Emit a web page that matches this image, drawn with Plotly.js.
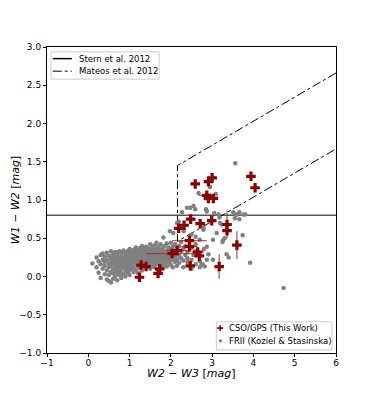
<!DOCTYPE html>
<html>
<head>
<meta charset="utf-8">
<script src="https://cdn.plot.ly/plotly-3.0.1.min.js"></script>
<style>
  body { margin: 0; background: #fff; }
  #chart { width: 374px; height: 397px; }
</style>
</head>
<body>
<div id="chart"></div>
<script>
// CSO/GPS sources (this work)
var csoX = [1.24, 1.28, 1.40, 1.69, 1.73, 2.03, 2.15, 2.19, 2.32, 2.45, 2.45, 2.47, 2.48, 2.59, 2.65,
            2.69, 2.71, 2.87, 2.91, 3.03, 2.91, 3.00, 2.99, 3.17, 3.36, 3.36, 3.60, 3.94, 4.04];
var csoY = [-0.01, 0.15, 0.13, 0.04, 0.10, 0.30, 0.34, 0.63, 0.67, 0.47, 0.39, 0.14, 0.75, 1.21, 0.32,
            0.27, 0.69, 1.06, 1.02, 1.02, 1.24, 1.29, 0.73, 0.13, 0.68, 0.60, 0.41, 1.31, 1.16];
var csoXerr = [0.05, 0.08, 0.06, 0.05, 0.05, 0.62, 0.25, 0.08, 0.10, 0.42, 0.20, 0.08, 0.10, 0.07, 0.15,
               0.12, 0.08, 0.20, 0.08, 0.06, 0.06, 0.06, 0.06, 0.05, 0.06, 0.06, 0.06, 0.06, 0.05];
var csoYerr = [0.03, 0.03, 0.03, 0.04, 0.04, 0.05, 0.05, 0.05, 0.04, 0.08, 0.06, 0.04, 0.04, 0.04, 0.06,
               0.07, 0.04, 0.04, 0.04, 0.04, 0.04, 0.04, 0.04, 0.16, 0.18, 0.06, 0.18, 0.04, 0.05];

// FRII comparison sample (Koziel & Stasinska)
var friiX = [
  0.10, 0.20, 0.20, 0.25, 0.25, 0.30, 0.30, 0.30, 0.35, 0.35, 0.35,
  0.40, 0.40, 0.40, 0.40, 0.45, 0.45, 0.45, 0.45,
  0.50, 0.50, 0.50, 0.50, 0.50, 0.55, 0.55, 0.55, 0.55, 0.55, 0.55,
  0.60, 0.60, 0.60, 0.60, 0.60, 0.60, 0.65, 0.65, 0.65, 0.65, 0.65, 0.65,
  0.70, 0.70, 0.70, 0.70, 0.70, 0.70, 0.70, 0.75, 0.75, 0.75, 0.75, 0.75, 0.75,
  0.80, 0.80, 0.80, 0.80, 0.80, 0.80, 0.80, 0.85, 0.85, 0.85, 0.85, 0.85, 0.85,
  0.90, 0.90, 0.90, 0.90, 0.90, 0.90, 0.90, 0.95, 0.95, 0.95, 0.95, 0.95, 0.95,
  1.00, 1.00, 1.00, 1.00, 1.00, 1.00, 1.00, 1.00, 1.05, 1.05, 1.05, 1.05, 1.05, 1.05,
  1.10, 1.10, 1.10, 1.10, 1.10, 1.10, 1.10, 1.15, 1.15, 1.15, 1.15, 1.15, 1.15,
  1.20, 1.20, 1.20, 1.20, 1.20, 1.20, 1.20, 1.25, 1.25, 1.25, 1.25, 1.25, 1.25,
  1.30, 1.30, 1.30, 1.30, 1.30, 1.30, 1.30, 1.35, 1.35, 1.35, 1.35, 1.35, 1.35,
  1.40, 1.40, 1.40, 1.40, 1.40, 1.40, 1.40, 1.45, 1.45, 1.45, 1.45, 1.45, 1.45,
  1.50, 1.50, 1.50, 1.50, 1.50, 1.50, 1.50, 1.55, 1.55, 1.55, 1.55, 1.55, 1.55,
  1.60, 1.60, 1.60, 1.60, 1.60, 1.60, 1.60, 1.65, 1.65, 1.65, 1.65, 1.65, 1.65,
  1.70, 1.70, 1.70, 1.70, 1.70, 1.70, 1.75, 1.75, 1.75, 1.75, 1.75, 1.75,
  1.80, 1.80, 1.80, 1.80, 1.80, 1.80, 1.85, 1.85, 1.85, 1.85, 1.85,
  1.90, 1.90, 1.90, 1.90, 1.90, 1.90, 1.95, 1.95, 1.95, 1.95,
  2.00, 2.00, 2.00, 2.00, 2.00, 2.05, 2.05, 2.05, 2.05, 2.10, 2.10, 2.10, 2.10,
  2.15, 2.15, 2.15, 2.15, 2.20, 2.20, 2.20, 2.25, 2.25, 2.25, 2.30, 2.30, 2.30,
  2.35, 2.35, 2.40, 2.40, 2.40, 2.50, 2.50, 2.50, 2.55, 2.60, 2.60, 2.60,
  2.70, 2.70, 2.75, 2.80,
  1.82, 1.98, 2.06, 2.19, 2.15, 2.31, 2.27, 2.39, 2.47, 2.55, 2.59, 2.67, 2.95, 3.09,
  2.85, 2.87, 3.05, 3.15, 3.18, 3.23, 3.19, 3.11, 2.79, 2.79, 3.02, 3.26, 3.25, 3.30,
  2.87, 2.91, 2.87, 2.77, 2.82, 3.02, 3.35, 3.40, 3.51, 3.58, 3.60, 3.66, 3.66, 3.76,
  3.80, 3.55, 3.74, 3.92, 4.73, 3.56, 2.50, 2.60, 2.70
];
var friiY = [
  0.17, 0.25, 0.12, 0.20, 0.05, 0.28, 0.16, -0.02, 0.22, 0.10, 0.30,
  0.14, 0.26, 0.03, 0.19, 0.31, 0.08, 0.22, -0.04,
  0.17, 0.27, 0.12, -0.06, 0.02, 0.33, 0.21, 0.06, -0.08, 0.15, 0.25,
  0.29, 0.10, 0.18, -0.03, 0.23, 0.04, 0.14, 0.32, 0.26, 0.00, 0.20, 0.08,
  0.22, 0.30, 0.11, -0.05, 0.17, 0.27, 0.05, 0.19, 0.33, 0.02, 0.24, 0.13, 0.08,
  0.28, 0.15, 0.21, -0.02, 0.31, 0.10, 0.05, 0.25, 0.18, 0.34, 0.12, 0.03, 0.22,
  0.30, 0.14, 0.20, 0.26, 0.08, 0.00, 0.17, 0.22, 0.33, 0.11, 0.28, 0.16, 0.05,
  0.25, 0.19, 0.31, 0.13, 0.36, 0.08, 0.21, 0.02, 0.28, 0.15, 0.22, 0.33, 0.10, 0.18,
  0.24, 0.30, 0.12, 0.20, 0.35, 0.06, 0.27, 0.17, 0.26, 0.32, 0.22, 0.09, 0.38,
  0.29, 0.21, 0.14, 0.34, 0.25, 0.18, 0.05, 0.31, 0.24, 0.37, 0.19, 0.27, 0.11,
  0.22, 0.33, 0.28, 0.16, 0.40, 0.25, 0.08, 0.30, 0.19, 0.36, 0.26, 0.13, 0.22,
  0.27, 0.34, 0.21, 0.39, 0.17, 0.31, 0.24, 0.23, 0.32, 0.29, 0.14, 0.37, 0.19,
  0.26, 0.35, 0.21, 0.42, 0.30, 0.17, 0.10, 0.31, 0.24, 0.38, 0.20, 0.28, 0.15,
  0.27, 0.34, 0.22, 0.41, 0.30, 0.18, 0.12, 0.29, 0.36, 0.25, 0.20, 0.44, 0.16,
  0.32, 0.23, 0.39, 0.27, 0.18, 0.35, 0.28, 0.34, 0.21, 0.42, 0.25, 0.15,
  0.30, 0.37, 0.24, 0.19, 0.33, 0.12, 0.27, 0.40, 0.22, 0.31, 0.16,
  0.34, 0.26, 0.43, 0.20, 0.29, 0.13, 0.31, 0.24, 0.38, 0.18,
  0.36, 0.27, 0.21, 0.44, 0.15, 0.29, 0.39, 0.23, 0.12, 0.33, 0.26, 0.42, 0.19,
  0.30, 0.22, 0.37, 0.14, 0.27, 0.40, 0.18, 0.33, 0.24, 0.45, 0.21, 0.36, 0.12,
  0.28, 0.40, 0.19, 0.32, 0.24, 0.37, 0.22, 0.10, 0.28, 0.16, 0.42, 0.33,
  0.20, 0.12, 0.16, 0.36,
  0.51, 0.59, 0.57, 0.72, 0.70, 0.59, 0.84, 0.90, 0.90, 0.92, 0.88, 1.09, 1.17, 1.08,
  0.88, 0.85, 0.83, 0.81, 0.77, 0.68, 0.70, 0.57, 0.61, 0.64, 0.48, 0.47, 0.45, 0.50,
  0.39, 0.29, 0.22, 0.16, 0.13, 0.22, 0.29, 0.25, 0.84, 0.81, 0.81, 0.75, 0.84, 0.81,
  0.81, 0.76, 0.54, 0.18, -0.15, 1.48, 0.55, 0.52, 0.48
];

// diagnostic lines
var sternY = 0.8;
var mateosSlope = 0.315;
var mateosTop = 0.77;
var mateosBottom = -0.222;
var mateosXmin = 2.16;
var mateosXmax = 6;

var legendLines = ['Stern et al. 2012', 'Mateos et al. 2012'];
var legendPoints = ['CSO/GPS (This Work)', 'FRII (Koziel & Stasinska)'];
var xTitle = '<i>W2</i> − <i>W3</i> [<i>mag</i>]';
var yTitle = '<i>W1</i> − <i>W2</i> [<i>mag</i>]';

var xr = [-1, 6];
var wedgeX = [mateosXmax, mateosXmin, mateosXmin, mateosXmax];
var wedgeY = [
  mateosSlope * mateosXmax + mateosTop,
  mateosSlope * mateosXmin + mateosTop,
  mateosSlope * mateosXmin + mateosBottom,
  mateosSlope * mateosXmax + mateosBottom
];

var cso = '#8b0000';
var errCol = 'rgba(165,35,35,0.75)';

var traces = [
  {
    x: xr, y: [sternY, sternY], mode: 'lines', name: legendLines[0],
    line: { color: '#555555', width: 1.5 }, hoverinfo: 'skip'
  },
  {
    x: wedgeX, y: wedgeY, mode: 'lines', name: legendLines[1],
    line: { color: 'black', width: 1, dash: 'dashdot' }, hoverinfo: 'skip'
  },
  {
    x: friiX, y: friiY, mode: 'markers', name: legendPoints[1],
    marker: { color: 'grey', size: 4.5 }
  },
  {
    x: csoX, y: csoY, mode: 'markers', name: legendPoints[0],
    marker: { color: cso, symbol: 'cross', size: 8 },
    error_x: { type: 'data', array: csoXerr, color: errCol, thickness: 1.3, width: 0 },
    error_y: { type: 'data', array: csoYerr, color: errCol, thickness: 1.3, width: 0 }
  }
];

// compact matplotlib-style legends, drawn with shapes and annotations (paper coords)
var legFont = { family: 'DejaVu Sans', size: 8.5, color: 'black' };
var titleFont = { family: 'DejaVu Sans', size: 11, color: 'black' };
var shapes = [
  { type: 'rect', xref: 'paper', yref: 'paper', x0: 0.014, x1: 0.388, y0: 0.895, y1: 0.984,
    line: { color: '#cccccc', width: 1 }, fillcolor: 'rgba(255,255,255,0.8)' },
  { type: 'line', xref: 'paper', yref: 'paper', x0: 0.020, x1: 0.086, y0: 0.962, y1: 0.962,
    line: { color: 'black', width: 1.5 } },
  { type: 'line', xref: 'paper', yref: 'paper', x0: 0.020, x1: 0.086, y0: 0.921, y1: 0.921,
    line: { color: 'black', width: 1, dash: 'dashdot' } },
  { type: 'rect', xref: 'paper', yref: 'paper', x0: 0.586, x1: 0.986, y0: 0.010, y1: 0.102,
    line: { color: '#cccccc', width: 1 }, fillcolor: 'rgba(255,255,255,0.8)' },
  { type: 'circle', xref: 'paper', yref: 'paper', xsizemode: 'pixel', ysizemode: 'pixel',
    xanchor: 0.600, yanchor: 0.040, x0: -1.6, x1: 1.6, y0: -1.6, y1: 1.6,
    line: { width: 0 }, fillcolor: '#4a84b8' }
];
var annotations = [
  { xref: 'paper', yref: 'paper', x: 0.105, y: 0.962, text: legendLines[0] },
  { xref: 'paper', yref: 'paper', x: 0.105, y: 0.921, text: legendLines[1] },
  { xref: 'paper', yref: 'paper', x: 0.622, y: 0.081, text: legendPoints[0] },
  { xref: 'paper', yref: 'paper', x: 0.622, y: 0.040, text: legendPoints[1] },
  { xref: 'paper', yref: 'paper', x: 0.600, y: 0.081, xanchor: 'center', text: '✚',
    font: { family: 'DejaVu Sans', size: 8, color: cso } },
  // axis titles, placed like matplotlib's labels
  { xref: 'paper', yref: 'paper', x: 0.5, y: -0.066, xanchor: 'center', text: xTitle, font: titleFont },
  { xref: 'paper', yref: 'paper', x: -0.11, y: 0.5, xanchor: 'center', textangle: -90, text: yTitle, font: titleFont }
].map(function (a) {
  return Object.assign({ showarrow: false, xanchor: 'left', yanchor: 'middle', font: legFont }, a);
});

var axisFont = { family: 'DejaVu Sans', size: 9, color: 'black' };

var layout = {
  width: 374,
  height: 397,
  margin: { l: 47, r: 38, t: 47, b: 44 },
  paper_bgcolor: 'white',
  plot_bgcolor: 'white',
  font: axisFont,
  showlegend: false,
  xaxis: {
    range: xr, dtick: 1, tick0: 0,
    showgrid: false, zeroline: false,
    showline: true, mirror: true, linecolor: 'black', linewidth: 1,
    ticks: 'outside', ticklen: 3, tickcolor: 'black',
    ticklabelstandoff: -2,
    tickfont: axisFont
  },
  yaxis: {
    range: [-1, 3], dtick: 0.5, tick0: 0, tickformat: '.1f',
    showgrid: false, zeroline: false,
    showline: true, mirror: true, linecolor: 'black', linewidth: 1,
    ticks: 'outside', ticklen: 3, tickcolor: 'black',
    tickfont: axisFont
  },
  shapes: shapes,
  annotations: annotations
};

Plotly.newPlot('chart', traces, layout, { displayModeBar: false, staticPlot: true });
</script>
</body>
</html>
